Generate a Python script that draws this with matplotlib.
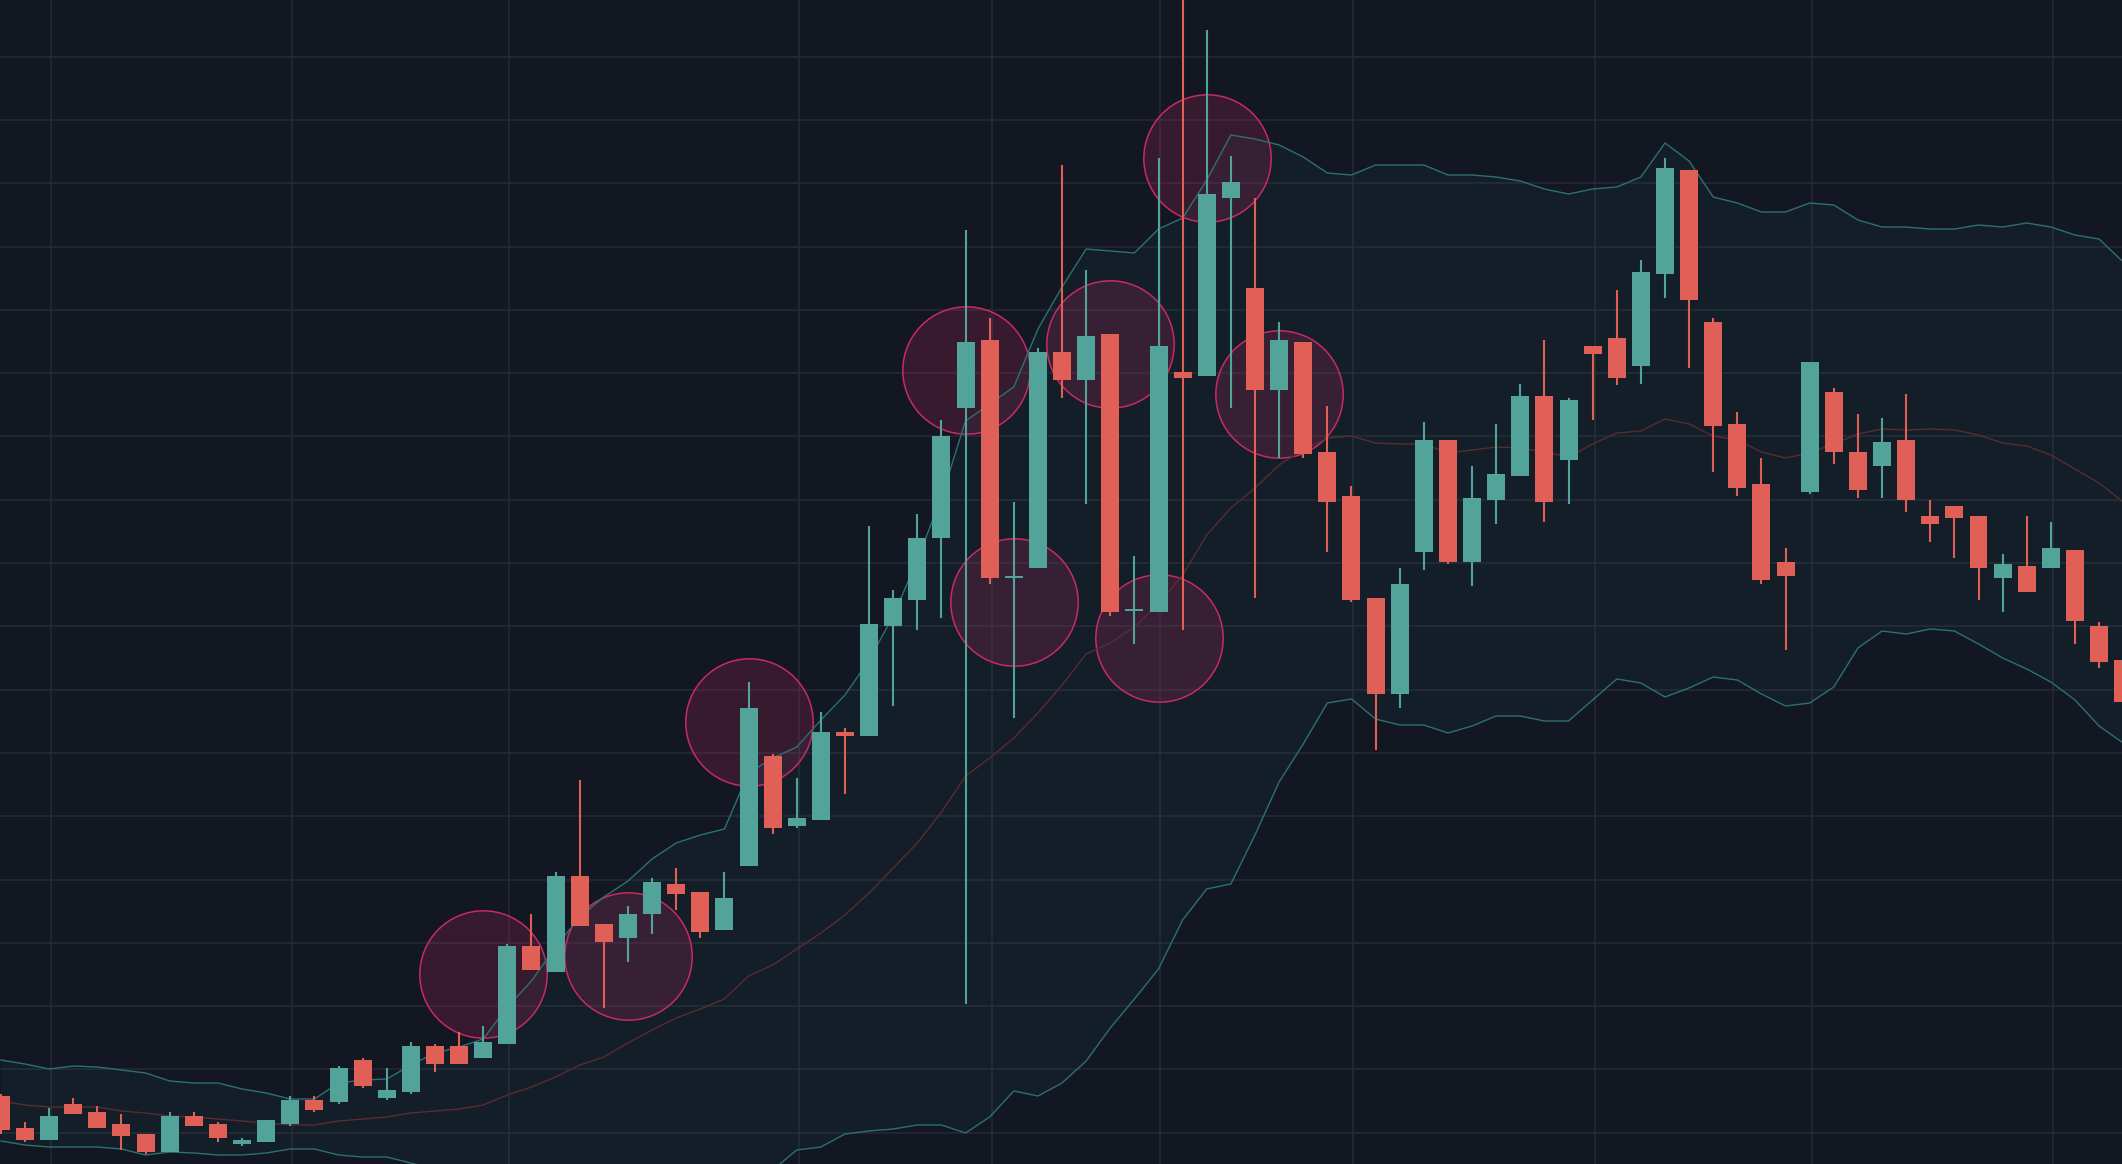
import numpy as np
import matplotlib.pyplot as plt

# OHLC (arbitrary price units, one candle per bar)
opens = [68, 36, 24, 60, 52, 40, 30, 12, 48, 40,
         20, 22, 40, 64, 62, 104, 66, 72, 118, 118,
         106, 120, 218, 192, 288, 240, 226, 250, 280, 272,
         234, 298, 408, 338, 344, 432, 428, 538, 564, 626,
         756, 824, 586, 596, 812, 784, 830, 553, 552, 792,
         788, 966, 876, 774, 822, 712, 668, 566, 470, 612,
         724, 602, 664, 688, 768, 704, 818, 826, 798, 890,
         994, 842, 740, 680, 602, 672, 772, 712, 698, 724,
         648, 658, 648, 586, 598, 596, 614, 538, 504]
closes = [34, 24, 48, 50, 36, 28, 12, 48, 38, 26,
          24, 44, 64, 54, 96, 78, 74, 118, 100, 100,
          122, 218, 194, 288, 238, 222, 250, 282, 270, 232,
          266, 456, 336, 346, 432, 428, 540, 566, 626, 728,
          822, 586, 588, 812, 784, 828, 552, 555, 818, 786,
          970, 982, 774, 824, 710, 662, 564, 470, 580, 724,
          602, 666, 690, 768, 662, 764, 810, 786, 892, 996,
          864, 738, 676, 584, 588, 802, 712, 674, 722, 664,
          640, 646, 596, 600, 572, 616, 543, 502, 462]
highs = [70, 42, 56, 66, 58, 50, 30, 52, 52, 42,
         26, 44, 68, 68, 98, 106, 96, 122, 120, 132,
         138, 220, 250, 292, 384, 240, 258, 286, 296, 272,
         292, 482, 410, 386, 452, 436, 638, 574, 650, 744,
         934, 846, 662, 816, 999, 894, 830, 608, 1006, 1204,
         1134, 1008, 966, 842, 822, 758, 678, 566, 596, 742,
         724, 698, 740, 780, 824, 766, 818, 874, 904, 1006,
         994, 846, 752, 706, 616, 802, 776, 750, 746, 770,
         664, 658, 648, 610, 648, 642, 614, 542, 504]
lows = [30, 22, 24, 50, 36, 14, 10, 12, 38, 22,
        18, 22, 38, 52, 60, 76, 64, 70, 92, 100,
        106, 120, 194, 192, 238, 156, 202, 230, 254, 226,
        234, 298, 330, 336, 344, 370, 428, 458, 534, 546,
        160, 580, 446, 596, 766, 660, 548, 520, 552, 534,
        788, 756, 566, 706, 706, 612, 562, 414, 456, 594,
        600, 578, 640, 688, 642, 660, 744, 779, 780, 866,
        796, 692, 668, 580, 514, 670, 700, 666, 666, 652,
        622, 606, 564, 552, 572, 596, 520, 496, 462]

# Bollinger bands as drawn
bb_upper = [104, 100, 95, 98, 97, 94, 91, 83, 81, 81,
            75, 71, 65, 65, 81, 84, 85, 99, 111, 117,
            125, 157, 183, 217, 247, 267, 283, 305, 321, 329,
            335, 391, 406, 417, 444, 469, 504, 548, 604, 667,
            743, 760, 777, 835, 877, 915, 913, 911, 935, 946,
            984, 1029, 1025, 1019, 1007, 991, 989, 999, 999, 999,
            989, 989, 987, 983, 975, 970, 975, 977, 987, 1021,
            1003, 967, 961, 952, 952, 961, 959, 944, 937, 937,
            935, 935, 939, 937, 941, 937, 929, 925, 902]
bb_mid = [63, 59, 57, 57, 57, 53, 51, 48, 47, 45,
          43, 41, 39, 39, 43, 45, 47, 51, 53, 55,
          59, 69, 77, 87, 99, 107, 121, 134, 146, 155,
          165, 188, 199, 215, 231, 249, 271, 296, 321, 352,
          388, 406, 426, 451, 479, 510, 521, 537, 560, 589,
          629, 656, 676, 699, 714, 726, 728, 721, 720, 720,
          711, 714, 717, 716, 712, 707, 720, 731, 733, 745,
          740, 728, 724, 712, 706, 711, 720, 730, 735, 734,
          735, 734, 729, 721, 718, 709, 695, 681, 662]
bb_lower = [23, 19, 17, 17, 17, 15, 9, 12, 11, 9,
            9, 11, 15, 15, 9, 7, 7, 1, -5, -11,
            -17, -24, -30, -35, -39, -41, -41, -39, -36, -32,
            -27, -19, -6, 14, 17, 30, 33, 35, 39, 39,
            31, 47, 73, 68, 81, 103, 136, 165, 195, 244,
            275, 280, 329, 382, 420, 461, 465, 445, 439, 439,
            431, 438, 448, 448, 443, 443, 464, 485, 481, 467,
            476, 487, 484, 470, 458, 461, 477, 516, 533, 530,
            535, 533, 520, 506, 495, 482, 464, 438, 421]

# highlighted candles (circle markers)
circle_idx = [20, 26, 31, 40, 42, 46, 48, 50, 53]
circle_price = [190, 208, 442, 794, 562, 820, 526, 1006, 770]

# vertical grid (time) positions
vgrid_idx = [2, 12, 21, 33, 41, 48, 56, 66, 75, 85]

BG = '#131722'
GRID = '#262a35'
UP = '#52a49a'
DOWN = '#e05f56'


def draw():
    fig = plt.figure(figsize=(21.22, 11.64), dpi=100)
    fig.patch.set_facecolor(BG)
    ax = fig.add_axes([0, 0, 1, 1])
    ax.set_axis_off()

    x = np.arange(len(opens))
    o = np.array(opens, dtype=float)
    c = np.array(closes, dtype=float)

    # grid
    for gy in np.arange(31.3, 1164, 63.3):
        ax.axhline(gy, color=GRID, lw=1.1, zorder=0)
    for gx in vgrid_idx:
        ax.axvline(gx + 0.08, color=GRID, lw=1.1, zorder=0)

    # bands
    ax.fill_between(x, bb_lower, bb_upper, color='#26a69a', alpha=0.05, lw=0, zorder=1)
    ax.plot(x, bb_upper, color='#2c7073', lw=1.0, zorder=3)
    ax.plot(x, bb_lower, color='#2c7073', lw=1.0, zorder=3)
    ax.plot(x, bb_mid, color='#5a2b30', lw=1.0, zorder=3)

    # circles
    ax.scatter(circle_idx, circle_price, s=8410, facecolor=(0.79, 0.16, 0.39, 0.2),
               edgecolor='#c82a62', linewidths=1.1, zorder=2)

    # candles
    colors = np.where(c >= o, UP, DOWN)
    ax.vlines(x, lows, highs, colors=colors, lw=1.5, zorder=4)
    height = np.maximum(np.abs(c - o), 2.0)
    ax.bar(x, height, bottom=np.minimum(o, c), width=0.746, color=colors, lw=0, zorder=5)

    ax.set_xlim(-0.037, 87.95)
    ax.set_ylim(0, 1164)
    fig.savefig('out.png', dpi=100, facecolor=BG)


if __name__ == '__main__':
    draw()
